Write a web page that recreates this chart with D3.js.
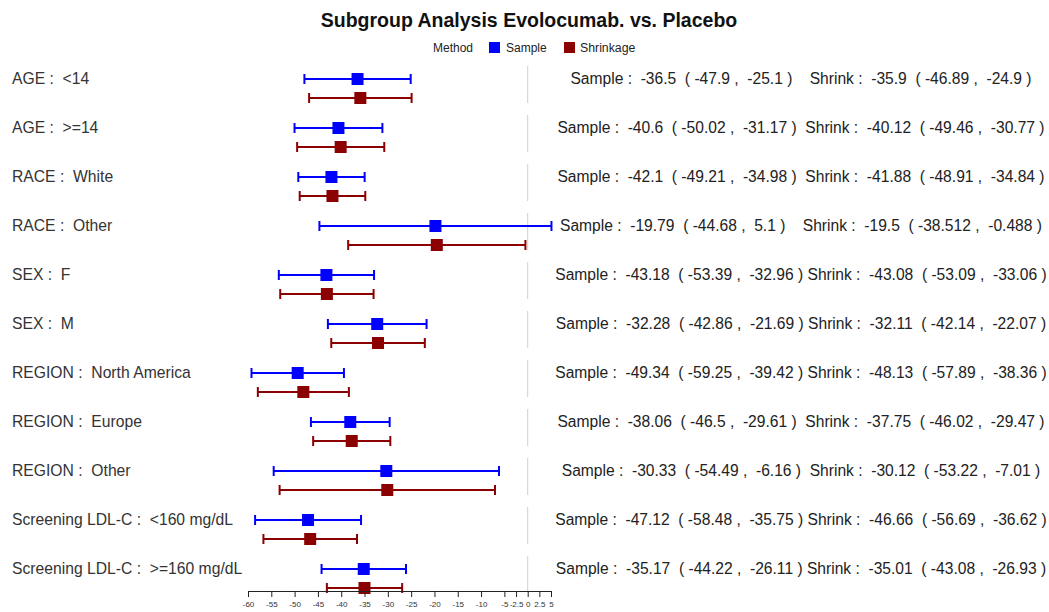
<!doctype html>
<html>
<head>
<meta charset="UTF-8">
<script src="https://d3js.org/d3.v7.min.js"></script>
<style>
  body { margin: 0; background: #fff; }
  text { font-family: "Liberation Sans", Arial, sans-serif; }
</style>
</head>
<body>
<script>
// subgroup labels
var groups = ["AGE :  <14", "AGE :  >=14", "RACE :  White", "RACE :  Other", "SEX :  F", "SEX :  M",
  "REGION :  North America", "REGION :  Europe", "REGION :  Other",
  "Screening LDL-C :  <160 mg/dL", "Screening LDL-C :  >=160 mg/dL"]

// sample estimates
var sampleMean = [-36.5, -40.6, -42.1, -19.79, -43.18, -32.28, -49.34, -38.06, -30.33, -47.12, -35.17]
var sampleLow  = [-47.9, -50.02, -49.21, -44.68, -53.39, -42.86, -59.25, -46.5, -54.49, -58.48, -44.22]
var sampleHigh = [-25.1, -31.17, -34.98, 5.1, -32.96, -21.69, -39.42, -29.61, -6.16, -35.75, -26.11]

// shrinkage estimates
var shrinkMean = [-35.9, -40.12, -41.88, -19.5, -43.08, -32.11, -48.13, -37.75, -30.12, -46.66, -35.01]
var shrinkLow  = [-46.89, -49.46, -48.91, -38.512, -53.09, -42.14, -57.89, -46.02, -53.22, -56.69, -43.08]
var shrinkHigh = [-24.9, -30.77, -34.84, -0.488, -33.06, -22.07, -38.36, -29.47, -7.01, -36.62, -26.93]

var tickVals = [-60, -55, -50, -45, -40, -35, -30, -25, -20, -15, -10, -5, -2.5, 0, 2.5, 5]

var width = 1049, height = 612
var blue = "#0000ff", red = "#8b0000"

var svg = d3.select("body").append("svg")
  .attr("width", width)
  .attr("height", height)

var x = d3.scaleLinear().domain([-60, 5]).range([248, 551])
var y = d3.scalePoint().domain(groups).range([79, 569])
var off = 19

// title + legend
svg.append("text")
  .attr("x", 529).attr("y", 27)
  .attr("text-anchor", "middle")
  .style("font-size", "19.5px").style("font-weight", "bold").style("fill", "#111")
  .text("Subgroup Analysis Evolocumab. vs. Placebo")

var leg = svg.append("g").attr("transform", "translate(0,48)")
leg.append("text").attr("x", 433).attr("y", 4).style("font-size", "12px").style("fill", "#222").text("Method")
leg.append("rect").attr("x", 489).attr("y", -6).attr("width", 11).attr("height", 11).attr("fill", blue)
leg.append("text").attr("x", 506).attr("y", 4).style("font-size", "12px").style("fill", "#222").text("Sample")
leg.append("rect").attr("x", 564).attr("y", -6).attr("width", 11).attr("height", 11).attr("fill", red)
leg.append("text").attr("x", 580).attr("y", 4).style("font-size", "12.3px").style("fill", "#222").text("Shrinkage")

// rows
var rows = groups.map(function(g, i) {
  return {
    label: g,
    s: [sampleMean[i], sampleLow[i], sampleHigh[i]],
    k: [shrinkMean[i], shrinkLow[i], shrinkHigh[i]]
  }
})

// zero reference line, one piece per row
svg.selectAll(".zero")
  .data(rows)
  .enter().append("line")
  .attr("x1", x(0)).attr("x2", x(0))
  .attr("y1", d => y(d.label) - 13)
  .attr("y2", (d, i) => i == rows.length - 1 ? 591 : y(d.label) + 24)
  .style("stroke", "#d0d0d0").style("stroke-width", 1)

svg.selectAll(".lab")
  .data(rows)
  .enter().append("text")
  .attr("x", 12)
  .attr("y", d => y(d.label) + 5)
  .attr("xml:space", "preserve")
  .style("white-space", "pre")
  .style("font-size", "15.7px").style("fill", "#333")
  .text(d => d.label)

var fmt = function(name, v) {
  return name + " :  " + v[0] + "  ( " + v[1] + " ,  " + v[2] + " )"
}
var sStrs = rows.map(d => fmt("Sample", d.s))
var maxLen = d3.max(sStrs, s => s.length)

svg.selectAll(".val")
  .data(rows)
  .enter().append("text")
  .attr("x", 801)
  .attr("y", d => y(d.label) + 5)
  .attr("text-anchor", "middle")
  .attr("xml:space", "preserve")
  .style("white-space", "pre")
  .style("font-size", "15.6px").style("fill", "#222")
  .text((d, i) => sStrs[i].padEnd(maxLen, " ") + " " + fmt("Shrink", d.k))

var drawBars = function(key, color, dy) {
  var g = svg.append("g")
  var cap = 5
  g.selectAll(".ci")
    .data(rows).enter().append("line")
    .attr("x1", d => x(d[key][1])).attr("x2", d => x(d[key][2]))
    .attr("y1", d => y(d.label) + dy).attr("y2", d => y(d.label) + dy)
    .style("stroke", color).style("stroke-width", 2)
  g.selectAll(".capl")
    .data(rows).enter().append("line")
    .attr("x1", d => x(d[key][1])).attr("x2", d => x(d[key][1]))
    .attr("y1", d => y(d.label) + dy - cap).attr("y2", d => y(d.label) + dy + cap)
    .style("stroke", color).style("stroke-width", 2)
  g.selectAll(".capr")
    .data(rows).enter().append("line")
    .attr("x1", d => x(d[key][2])).attr("x2", d => x(d[key][2]))
    .attr("y1", d => y(d.label) + dy - cap).attr("y2", d => y(d.label) + dy + cap)
    .style("stroke", color).style("stroke-width", 2)
  g.selectAll(".pt")
    .data(rows).enter().append("rect")
    .attr("x", d => x(d[key][0]) - 6).attr("y", d => y(d.label) + dy - 6)
    .attr("width", 12).attr("height", 12)
    .attr("fill", color)
}
drawBars("s", blue, 0)
drawBars("k", red, off)

// axis
var ax = svg.append("g")
  .attr("transform", "translate(0,591)")
  .call(d3.axisBottom(x).tickValues(tickVals).tickSize(6).tickSizeOuter(0).tickFormat(d => d))
ax.select(".domain").style("stroke", "#222")
ax.selectAll(".tick line").style("stroke", "#222")
ax.selectAll(".tick text")
  .attr("y", 10)
  .style("font-size", "8px").style("fill", "#333")
  .style("font-family", "'Liberation Sans', Arial, sans-serif")
</script>
</body>
</html>
